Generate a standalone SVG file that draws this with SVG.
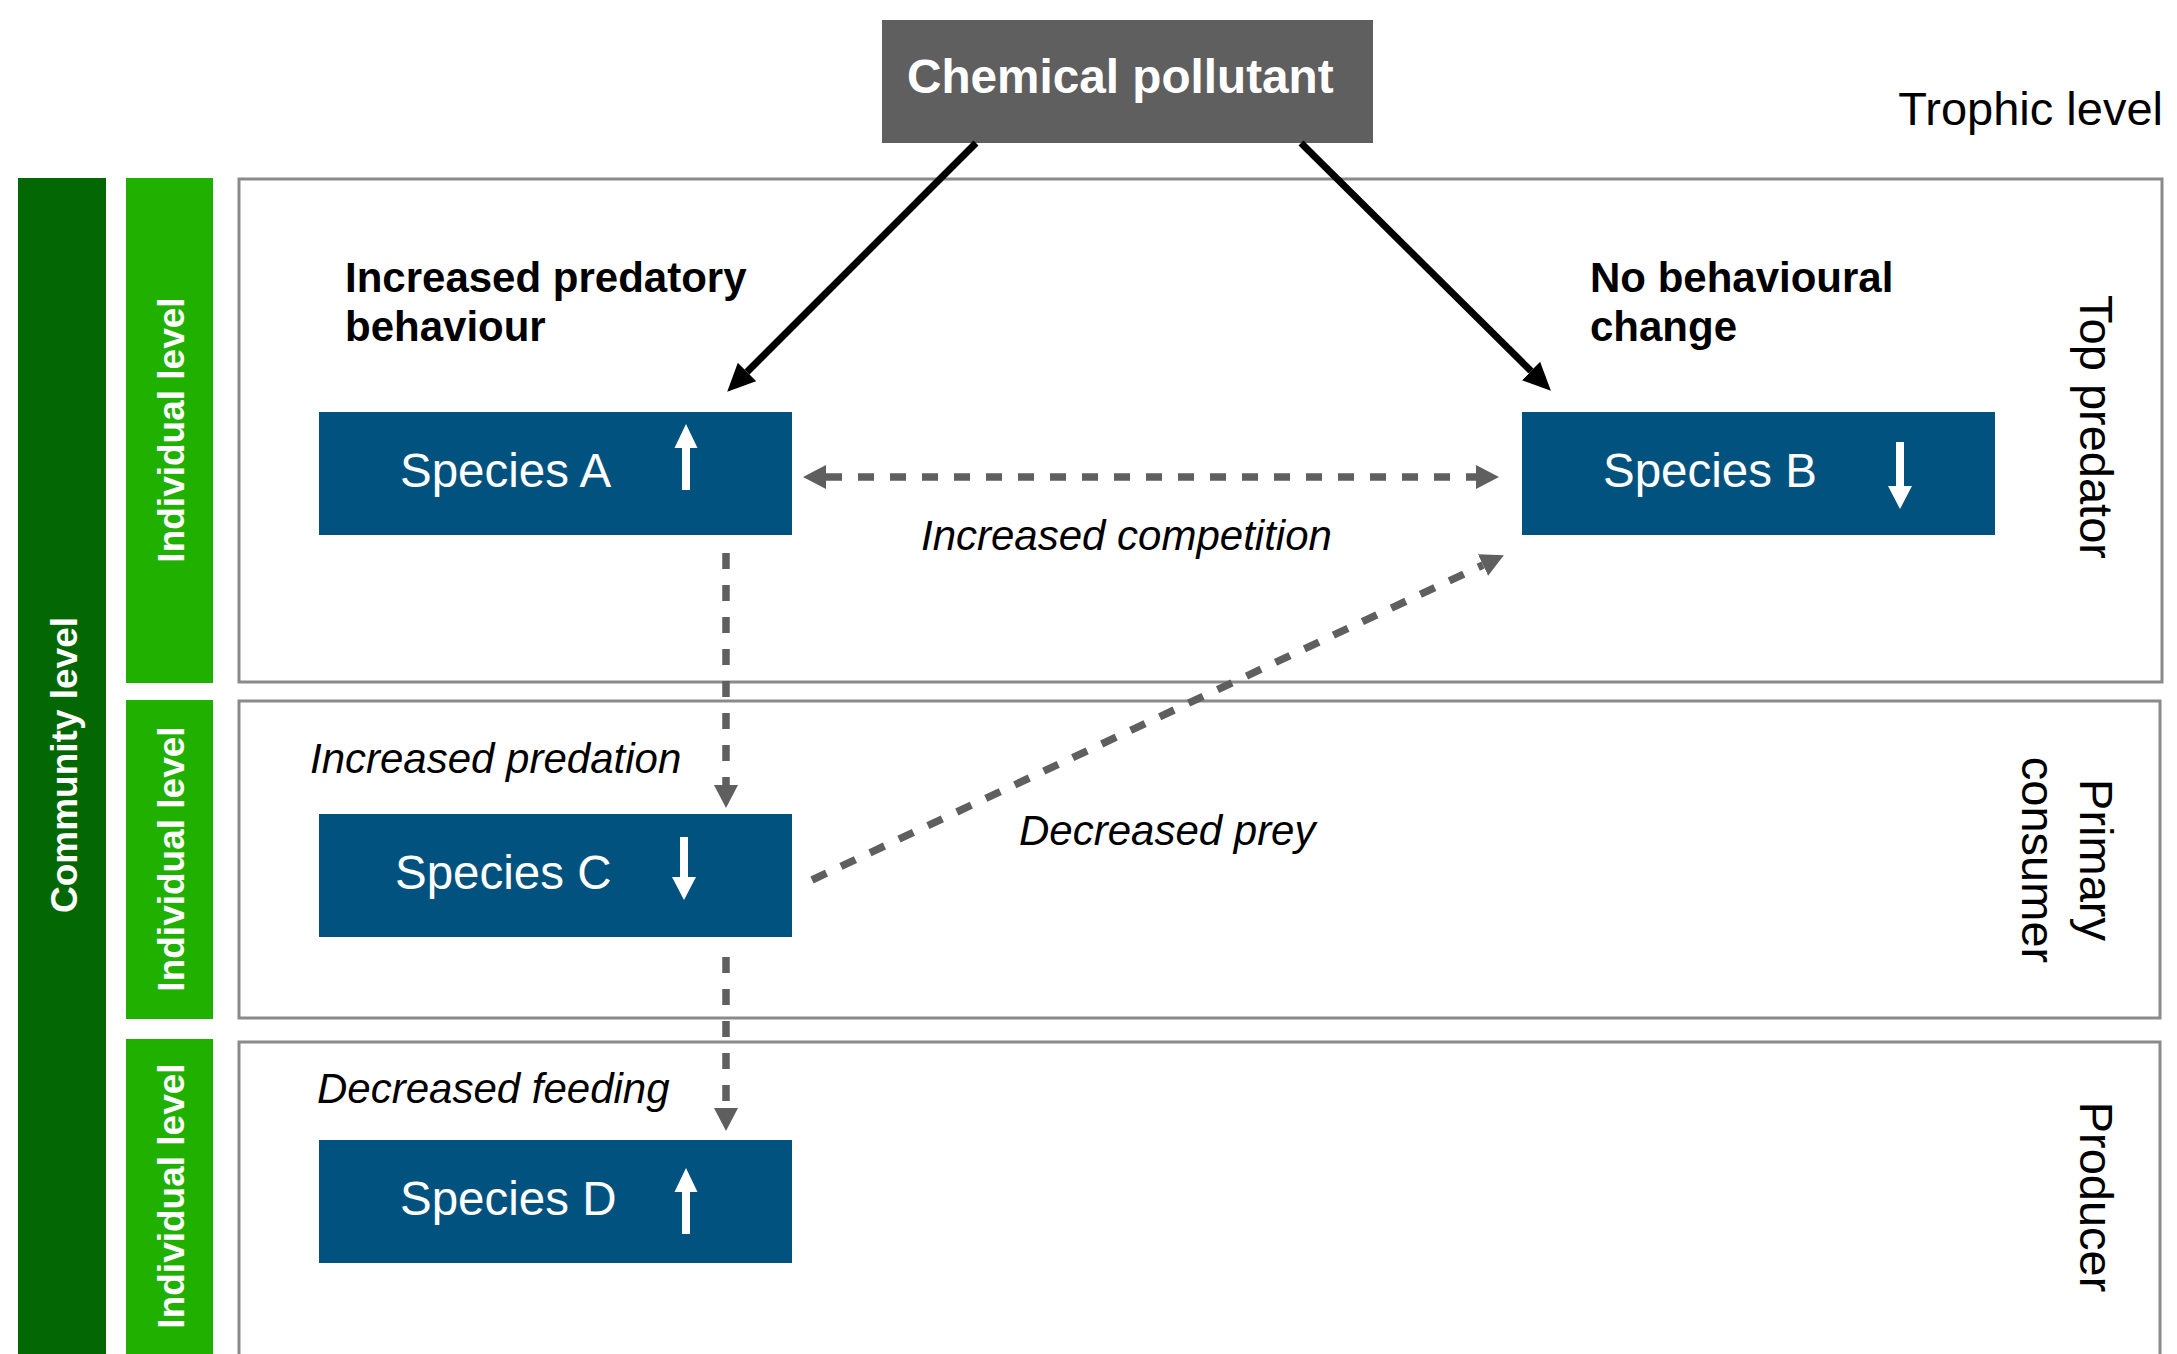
<svg xmlns="http://www.w3.org/2000/svg" width="2177" height="1354" viewBox="0 0 2177 1354">
<style>
.panel{fill:#fff;stroke:#8a8a8a;stroke-width:3}
.sp{fill:#02527f}
.spt{font-family:"Liberation Sans",Arial,sans-serif;font-size:47.5px;fill:#fff}
.ua{fill:#fff}
.lvl{font-family:"Liberation Sans",Arial,sans-serif;font-size:37px;font-weight:bold;fill:#fff;text-anchor:middle}
.troph{font-family:"Liberation Sans",Arial,sans-serif;font-size:47px;fill:#000}
.bold{font-family:"Liberation Sans",Arial,sans-serif;font-size:42px;font-weight:bold;fill:#000}
.ital{font-family:"Liberation Sans",Arial,sans-serif;font-size:42px;font-style:italic;fill:#000}
.dash{fill:none;stroke:#5f5f5f;stroke-width:7.5;stroke-dasharray:16 16}
.solid{fill:none;stroke:#000;stroke-width:7}
</style>
<defs>
<marker id="gh" markerUnits="userSpaceOnUse" markerWidth="23" markerHeight="24" viewBox="0 0 23 24" refX="0" refY="12" orient="auto-start-reverse">
<path d="M0,0 L23,12 L0,24 z" fill="#5f5f5f"/>
</marker>
<marker id="bh" markerUnits="userSpaceOnUse" markerWidth="28" markerHeight="26" viewBox="0 0 28 26" refX="0" refY="13" orient="auto">
<path d="M0,0 L28,13 L0,26 z" fill="#000"/>
</marker>
</defs>
<rect width="2177" height="1354" fill="#fff"/>

<g id="community-level">
<rect x="18" y="178" width="88" height="1176" fill="#036803"/>
<text class="lvl" transform="translate(77,765) rotate(-90)">Community level</text>
</g>
<g id="individual-level-1">
<rect x="126" y="178" width="87" height="505" fill="#20b000"/>
<text class="lvl" transform="translate(184,430) rotate(-90)">Individual level</text>
</g>
<g id="individual-level-2">
<rect x="126" y="700" width="87" height="319" fill="#20b000"/>
<text class="lvl" transform="translate(184,859) rotate(-90)">Individual level</text>
</g>
<g id="individual-level-3">
<rect x="126" y="1039" width="87" height="320" fill="#20b000"/>
<text class="lvl" transform="translate(184,1196) rotate(-90)">Individual level</text>
</g>

<g id="panel-top-predator">
<rect class="panel" x="239" y="179" width="1923" height="503"/>
<text class="troph" text-anchor="middle" transform="translate(2080,427) rotate(90)">Top predator</text>
</g>
<g id="panel-primary-consumer">
<rect class="panel" x="239" y="701" width="1921" height="317"/>
<text class="troph" text-anchor="middle" transform="translate(2080,860) rotate(90)">Primary</text>
<text class="troph" text-anchor="middle" transform="translate(2022,860) rotate(90)">consumer</text>
</g>
<g id="panel-producer">
<rect class="panel" x="239" y="1042" width="1921" height="340"/>
<text class="troph" text-anchor="middle" transform="translate(2080,1197) rotate(90)">Producer</text>
</g>

<g id="trophic-level-title">
<text class="troph" x="2163" y="125" text-anchor="end">Trophic level</text>
</g>

<g id="chemical-pollutant">
<rect x="882" y="20" width="491" height="123" fill="#5f5f5f"/>
<text x="907" y="93" font-family="Liberation Sans,Arial,sans-serif" font-size="47.7" font-weight="bold" fill="#fff">Chemical pollutant</text>
</g>

<g id="label-increased-predatory">
<text class="bold" x="345" y="292">Increased predatory</text>
<text class="bold" x="345" y="341">behaviour</text>
</g>
<g id="label-no-change">
<text class="bold" x="1590" y="292">No behavioural</text>
<text class="bold" x="1590" y="341">change</text>
</g>

<g id="species-a">
<rect class="sp" x="319" y="412" width="473" height="123"/>
<text class="spt" x="400" y="487">Species A</text>
<polygon class="ua" points="686,424 697.5,448 690,448 690,490 682,490 682,448 674.5,448"/>
</g>
<g id="species-b">
<rect class="sp" x="1522" y="412" width="473" height="123"/>
<text class="spt" x="1603" y="487">Species B</text>
<polygon class="ua" points="1896,442 1904,442 1904,486 1912,486 1900,509 1888,486 1896,486"/>
</g>
<g id="species-c">
<rect class="sp" x="319" y="814" width="473" height="123"/>
<text class="spt" x="395" y="889">Species C</text>
<polygon class="ua" points="680,837 688,837 688,877 696,877 684,900 672,877 680,877"/>
</g>
<g id="species-d">
<rect class="sp" x="319" y="1140" width="473" height="123"/>
<text class="spt" x="400" y="1215">Species D</text>
<polygon class="ua" points="686,1168 697.5,1192 690,1192 690,1234 682,1234 682,1192 674.5,1192"/>
</g>

<g id="connectors">
<path class="solid" d="M976,143 L747,372" marker-end="url(#bh)"/>
<path class="solid" d="M1301,143 L1531,371" marker-end="url(#bh)"/>
<path class="dash" d="M826,477 L1476,477" marker-start="url(#gh)" marker-end="url(#gh)"/>
<path class="dash" d="M726,553 L726,785" marker-end="url(#gh)"/>
<path class="dash" d="M726,957 L726,1108" marker-end="url(#gh)"/>
<path class="dash" d="M812,880 L1483,565" marker-end="url(#gh)"/>
</g>

<g id="edge-labels">
<text class="ital" x="921" y="550">Increased competition</text>
<text class="ital" x="1019" y="845">Decreased prey</text>
<text class="ital" x="310" y="773">Increased predation</text>
<text class="ital" x="317" y="1103">Decreased feeding</text>
</g>
</svg>
